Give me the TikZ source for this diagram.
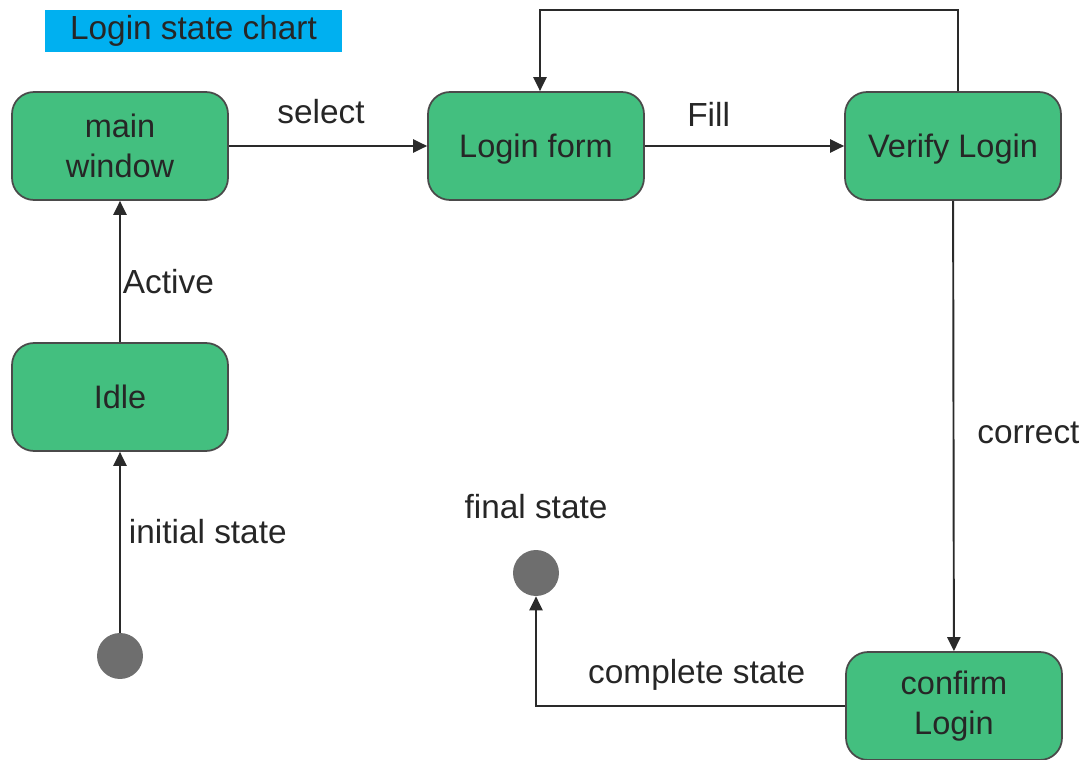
\documentclass[tikz,border=0pt]{standalone}
\usepackage{fontspec}
\setmainfont{Liberation Sans}
\usetikzlibrary{arrows.meta,positioning}
\definecolor{stategreen}{HTML}{43BF7F}
\definecolor{titlecyan}{HTML}{00B0F0}
\definecolor{dotgray}{HTML}{6E6E6E}
\definecolor{linegray}{HTML}{2A2A2A}

\begin{document}
\begin{tikzpicture}[x=0.02cm,y=-0.02cm,
    state/.style={draw=linegray!85,line width=1pt,rounded corners=0.44cm,fill=stategreen,minimum width=4.32cm,minimum height=2.16cm,align=center,font=\fontsize{18.5}{23}\selectfont,text=black!85},
    oneline/.style={text height=13.3pt,text depth=0pt},
    dot/.style={circle,fill=dotgray,minimum size=0.92cm,inner sep=0pt},
    arr/.style={-{Triangle[length=8pt,width=7.5pt]},line width=1.1pt,linegray},
    lbl/.style={font=\fontsize{19}{22}\selectfont,text=black!85,inner sep=0pt}
]
\useasboundingbox (0,0) rectangle (1089,760);

\node[fill=titlecyan,minimum width=5.94cm,minimum height=0.84cm,font=\fontsize{19}{22}\selectfont,text=black!85] (title) at (193.5,31) {Login state chart};

% states
\node[state] (main) at (120,146) {main\\window};
\node[state,oneline] (form) at (536,146) {Login form};
\node[state,oneline] (verify) at (953,146) {Verify Login};
\node[state] (idle) at (120,397) {Idle};
\node[state] (confirm) at (954,706) {confirm\\Login};

% start and end points
\node[dot] (init) at (120,656) {};
\node[dot,label={[lbl,label distance=0.6cm]above:final state}] (final) at (536,573) {};

% transitions
\draw[arr] (init) -- node[lbl,pos=0.56,right=0.16cm] {initial state} (idle);
\draw[arr] (idle) -- node[lbl,pos=0.43,right=0.04cm] {Active} (main);
\draw[arr] (main) -- node[lbl,pos=0.465,above=0.42cm] {select} (form);
\draw[arr] (form) -- node[lbl,pos=0.32,above=0.38cm] {Fill} (verify);
\draw[arr] ([xshift=0.1cm]verify.north) -- ++(0,-81) -| ([xshift=0.08cm]form.north);
\draw[arr] (verify) -- node[lbl,pos=0.515,right=0.46cm] {correct} (confirm);
\draw[arr] (confirm) -| node[lbl,pos=0.24,above=0.3cm] {complete state} (final);
\end{tikzpicture}
\end{document}
